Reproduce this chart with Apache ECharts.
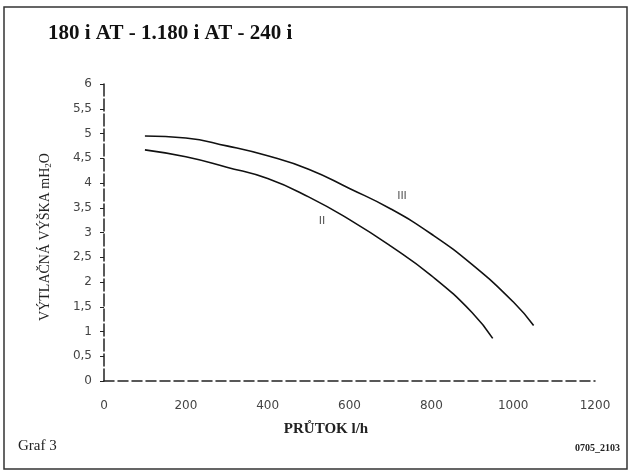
<!DOCTYPE html>
<html>
<head>
<meta charset="utf-8">
<script src="https://cdn.jsdelivr.net/npm/echarts@6/dist/echarts.min.js"></script>
<style>
  html, body { margin: 0; padding: 0; background: #fff; }
  #main { width: 631px; height: 473px; }
</style>
</head>
<body>
<div id="main"></div>
<script>
// flow l/h vs head mH2O
const flowIII = [100, 200, 300, 400, 500, 600, 700, 800, 900, 1000, 1050];
const headIII = [4.95, 4.91, 4.75, 4.55, 4.28, 3.89, 3.48, 2.97, 2.35, 1.6, 1.12];
const flowII = [100, 200, 300, 400, 500, 600, 700, 800, 900, 950];
const headII = [4.67, 4.53, 4.32, 4.09, 3.72, 3.26, 2.73, 2.13, 1.38, 0.86];
const curveNames = ["III", "II"];

const serif = "Liberation Serif";
const sans = "DejaVu Sans";

const chart = echarts.init(document.getElementById("main"));

function pairs(xs, ys) {
  return xs.map(function (x, i) { return [x, ys[i]]; });
}

chart.setOption({
  animation: false,
  backgroundColor: "#fff",
  grid: { left: 104, right: 36, top: 84, bottom: 92 },
  xAxis: {
    type: "value",
    min: 0,
    max: 1200,
    interval: 200,
    axisLine: { lineStyle: { color: "#222", width: 1.5, type: [10, 4] } },
    axisTick: { show: false },
    splitLine: { show: false },
    axisLabel: {
      color: "#444", fontFamily: sans, fontSize: 12, margin: 19,
      formatter: function (v) { return String(v); }
    }
  },
  yAxis: {
    type: "value",
    min: 0,
    max: 6,
    interval: 0.5,
    axisLine: { show: true, lineStyle: { color: "#222", width: 1.5, type: [12, 3] } },
    axisTick: { show: true, length: 4, lineStyle: { color: "#222" } },
    splitLine: { show: false },
    axisLabel: {
      color: "#444", fontFamily: sans, fontSize: 12, margin: 12,
      formatter: function (v) { return String(v).replace(".", ","); }
    }
  },
  series: [
    {
      name: curveNames[0],
      type: "line",
      smooth: true,
      symbol: "none",
      lineStyle: { color: "#111", width: 1.6 },
      data: pairs(flowIII, headIII)
    },
    {
      name: curveNames[1],
      type: "line",
      smooth: true,
      symbol: "none",
      lineStyle: { color: "#111", width: 1.6 },
      data: pairs(flowII, headII)
    }
  ],
  graphic: [
    {
      type: "rect",
      shape: { x: 4, y: 7, width: 623, height: 462 },
      style: { fill: "none", stroke: "#333", lineWidth: 1.5 }
    },
    {
      type: "text",
      x: 48, y: 34,
      style: {
        text: "180 i AT - 1.180 i AT - 240 i",
        font: "bold 21px " + serif,
        fill: "#111",
        verticalAlign: "middle"
      }
    },
    {
      type: "text",
      x: 45, y: 237,
      rotation: Math.PI / 2,
      style: {
        text: "{a|VÝTLAČNÁ VÝŠKA mH}{s|2}{a|O}",
        align: "center",
        verticalAlign: "middle",
        rich: {
          a: { fontFamily: serif, fontSize: 14, fill: "#222" },
          s: { fontFamily: serif, fontSize: 9, fill: "#222", padding: [8, 0, 0, 0] }
        }
      }
    },
    {
      type: "text",
      x: 326, y: 429,
      style: {
        text: "PRŮTOK l/h",
        font: "bold 15px " + serif,
        fill: "#222",
        align: "center",
        verticalAlign: "middle"
      }
    },
    {
      type: "text",
      x: 402, y: 196,
      style: { text: curveNames[0], font: "11px " + sans, fill: "#555", align: "center", verticalAlign: "middle" }
    },
    {
      type: "text",
      x: 322, y: 221,
      style: { text: curveNames[1], font: "11px " + sans, fill: "#555", align: "center", verticalAlign: "middle" }
    },
    {
      type: "text",
      x: 18, y: 446,
      style: { text: "Graf 3", font: "15px " + serif, fill: "#222", verticalAlign: "middle" }
    },
    {
      type: "text",
      x: 620, y: 448,
      style: { text: "0705_2103", font: "bold 10px " + serif, fill: "#222", align: "right", verticalAlign: "middle" }
    }
  ]
});
</script>
</body>
</html>
